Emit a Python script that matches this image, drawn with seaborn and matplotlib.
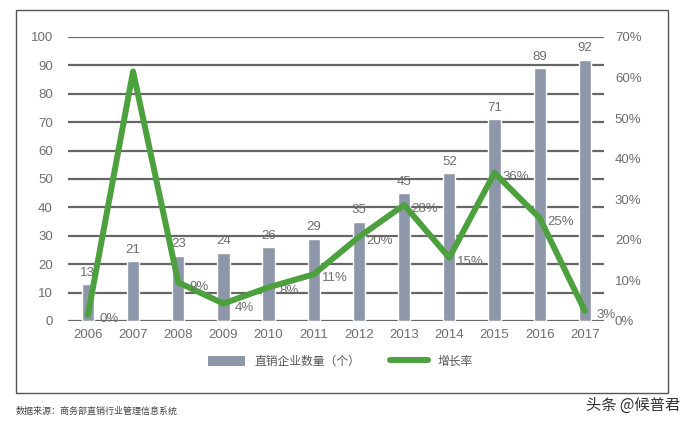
import matplotlib
matplotlib.use("Agg")
import matplotlib.pyplot as plt
import seaborn as sns
import numpy as np
import pandas as pd
from matplotlib.patches import Patch, Rectangle
from matplotlib.lines import Line2D

years = ["2006", "2007", "2008", "2009", "2010", "2011", "2012", "2013", "2014", "2015", "2016", "2017"]
counts = [13, 21, 23, 24, 26, 29, 35, 45, 52, 71, 89, 92]
growth = [1.5, 61.5, 9.5, 4.3, 8.3, 11.5, 20.7, 28.6, 15.6, 36.5, 25.4, 2.5]
growth_labels = ["0%", "", "9%", "4%", "8%", "11%", "20%", "28%", "15%", "36%", "25%", "3%"]
left_ticks = [0, 10, 20, 30, 40, 50, 60, 70, 80, 90, 100]
right_ticks = [0, 10, 20, 30, 40, 50, 60, 70]
legend_bar = "直销企业数量（个）"
legend_line = "增长率"
source_text = "数据来源：商务部直销行业管理信息系统"
watermark = "头条 @候普君"

sns.set_theme(style="white")
plt.rcParams['font.family'] = ['Liberation Sans', 'Noto Sans CJK SC', 'DejaVu Sans']

bar_color = "#8d97a9"
line_color = "#4ca03d"
tick_color = "#6e6e6e"

fig = plt.figure(figsize=(6.94, 4.26), dpi=100)
ax = fig.add_axes([0.098, 0.2465, 0.772, 0.6667])

df = pd.DataFrame({"year": years, "count": counts, "growth": growth})
sns.barplot(data=df, x="year", y="count", color=bar_color, width=0.27,
            saturation=1, ax=ax, zorder=3)

ax.set_ylim(0, 100)
ax.set_xlim(-0.44, 11.42)
ax.set_yticks(left_ticks)
for t in left_ticks:
    ax.axhline(t, color="#666666", lw=1.6, zorder=1)
for s in ax.spines.values():
    s.set_visible(False)
ax.set_xlabel("")
ax.set_ylabel("")
ax.tick_params(axis="y", length=0, pad=11, labelsize=9.5, labelcolor=tick_color)
ax.tick_params(axis="x", length=0, pad=6, labelsize=9.5, labelcolor=tick_color)

for i, c in enumerate(counts):
    ax.annotate(str(c), (i, c), xytext=(0, 4), textcoords="offset points",
                ha="center", va="bottom", fontsize=9.5, color=tick_color, zorder=5)

ax2 = ax.twinx()
sns.lineplot(x=np.arange(len(years)), y=growth, color=line_color, lw=4.3,
             ax=ax2, zorder=4)
ax2.set_ylim(0, 70)
ax2.set_yticks(right_ticks)
ax2.set_yticklabels([f"{t}%" for t in right_ticks])
for s in ax2.spines.values():
    s.set_visible(False)
ax2.tick_params(axis="y", length=0, pad=8, labelsize=9.5, labelcolor=tick_color)
ax2.set_xlim(-0.44, 11.42)

for i, (g, lab) in enumerate(zip(growth, growth_labels)):
    if lab:
        ax2.annotate(lab, (i, g), xytext=(15, -3), textcoords="offset points",
                     ha="center", va="center", fontsize=9.5, color=tick_color, zorder=6)

handles = [Patch(facecolor=bar_color, edgecolor="none"),
           Line2D([0], [0], color=line_color, lw=4.3)]
fig.legend(handles, [legend_bar, legend_line], loc="center",
           bbox_to_anchor=(0.49, 0.152), ncol=2, frameon=False,
           handlelength=3.2, handleheight=0.9, columnspacing=2.5,
           labelcolor="#555555", prop={'family': ['Noto Sans CJK SC'], 'size': 8.5})

# outer frame
fig.patches.append(Rectangle((16 / 694, 1 - 393 / 426), (668 - 16) / 694, (393 - 10) / 426,
                             transform=fig.transFigure, fill=False,
                             edgecolor="#555555", lw=1.0))

fig.text(16 / 694, 1 - 411 / 426, source_text, fontsize=6.5, color="#444444",
         ha="left", va="center", family=['Noto Sans CJK SC'])
fig.text(680 / 694, 1 - 405 / 426, watermark, fontsize=11, color="#333333",
         ha="right", va="center", family=['Noto Sans CJK SC', 'DejaVu Sans'])

fig.savefig("out.png", dpi=100)
